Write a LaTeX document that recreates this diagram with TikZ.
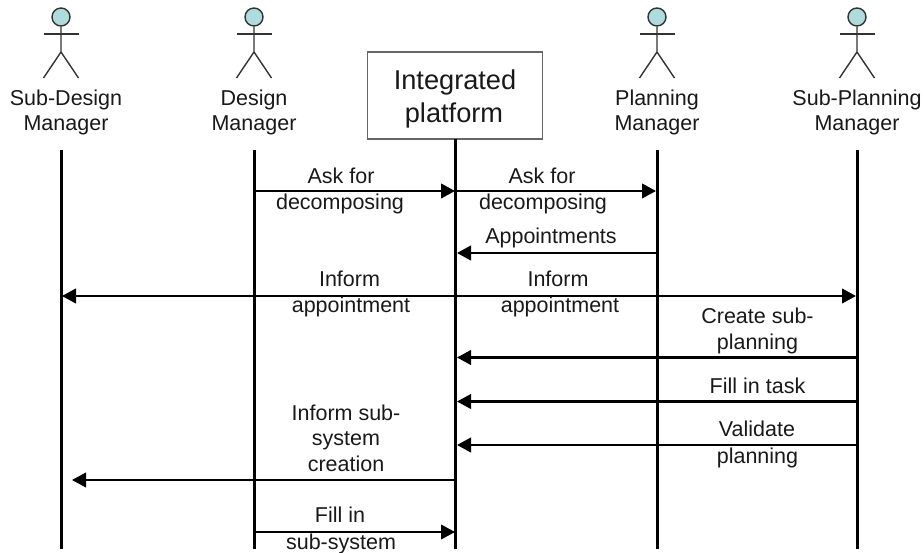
\documentclass[tikz,border=0pt]{standalone}
\usepackage{fontspec}
\setmainfont{Liberation Sans}
\usetikzlibrary{arrows.meta}
\definecolor{headc}{HTML}{AEDCDC}
\definecolor{limb}{HTML}{333333}
\tikzset{
  lifeline/.style={line width=3pt,black},
  msg/.style={line width=2.5pt,black,-{Triangle[length=14pt,width=14.5pt]}},
  msgboth/.style={line width=2.5pt,black,{Triangle[length=14pt,width=14.5pt]}-{Triangle[length=14pt,width=14.5pt]}},
  lbl/.style={font=\fontsize{21.5}{21.5}\selectfont,text=black!90,inner sep=0pt,anchor=base},
  limbs/.style={line width=1.4pt,limb},
  head/.style={circle,draw=limb,line width=1.4pt,fill=headc,minimum size=18pt,inner sep=0pt},
  platform/.style={draw=black!60,line width=1.3pt,fill=white,minimum width=175pt,minimum height=87pt,inner sep=0pt},
  plbl/.style={font=\fontsize{27.2}{27.2}\selectfont,text=black!90,inner sep=0pt,anchor=base}
}
\newcommand{\actor}[2]{%
  \node[head] (#2h) at (#1,17) {};
  \coordinate (#2n) at (#1,52);
  \coordinate (#2al) at (#1-17.5,34);
  \coordinate (#2ar) at (#1+17.5,34);
  \coordinate (#2ll) at (#1-17.5,78);
  \coordinate (#2lr) at (#1+17.5,78);
  \draw[limbs] (#2h.south) -- (#2n) -- (#2ll);
  \draw[limbs] (#2n) -- (#2lr);
  \draw[limbs] (#2al) -- (#2ar);
}
\newcommand{\txt}[4]{\node[lbl] (#1) at (#2,#3) {#4};}
\begin{document}
\begin{tikzpicture}[x=1pt,y=-1pt]
\useasboundingbox (0,0) rectangle (924,553);
\actor{61}{sd}
\actor{254}{d}
\actor{657}{p}
\actor{857}{sp}
\txt{sdl1}{66}{106}{Sub-Design}
\txt{sdl2}{66}{131}{Manager}
\txt{dl1}{254}{106}{Design}
\txt{dl2}{254}{131}{Manager}
\txt{pl1}{657}{106}{Planning}
\txt{pl2}{657}{131}{Manager}
\txt{spl1}{857}{106}{Sub-Planning}
\txt{spl2}{857}{131}{Manager}
\node[platform] (ip) at (455.2,95.6) {};
\node[plbl] (ipa) at (455,89.5) {Integrated};
\node[plbl] (ipb) at (454,123) {platform};
% lifelines
\foreach \n/\x/\y in {sd/61/150,d/254/150,i/455/139,p/657/150,sp/857/150}{
  \coordinate (\n t) at (\x,\y);
  \coordinate (\n b) at (\x,549);
  \draw[lifeline] (\n t) -- (\n b);
}
% message ends
\coordinate (m1a) at (254,191); \coordinate (m1b) at (455,191);
\coordinate (m2a) at (455,191); \coordinate (m2b) at (656,191);
\coordinate (m3a) at (657,253); \coordinate (m3b) at (457,253);
\coordinate (m4a) at (62,296); \coordinate (m4b) at (856,296);
\coordinate (m5a) at (857,357.5); \coordinate (m5b) at (457,357.5);
\coordinate (m6a) at (857,401.5); \coordinate (m6b) at (457,401.5);
\coordinate (m7a) at (857,445); \coordinate (m7b) at (457,445);
\coordinate (m8a) at (455,480); \coordinate (m8b) at (72,480);
\coordinate (m9a) at (254,532); \coordinate (m9b) at (455,532);
\draw[msg] (m1a) -- (m1b);
\draw[msg] (m2a) -- (m2b);
\draw[msg] (m3a) -- (m3b);
\draw[msgboth] (m4a) -- (m4b);
\draw[msg] (m5a) -- (m5b);
\draw[msg] (m6a) -- (m6b);
\draw[msg] (m7a) -- (m7b);
\draw[msg] (m8a) -- (m8b);
\draw[msg] (m9a) -- (m9b);
% labels
\txt{t1a}{341}{184}{Ask for}
\txt{t1b}{340}{210}{decomposing}
\txt{t2a}{542}{184}{Ask for}
\txt{t2b}{543}{210}{decomposing}
\txt{t3}{551}{244}{Appointments}
\txt{t4a}{349.5}{287}{Inform}
\txt{t4b}{351}{312.5}{appointment}
\txt{t5a}{558}{287}{Inform}
\txt{t5b}{560}{312.5}{appointment}
\txt{t6a}{757.5}{323.5}{Create sub-}
\txt{t6b}{757.5}{350}{planning}
\txt{t7}{757.5}{393.5}{Fill in task}
\txt{t8a}{757}{436.5}{Validate}
\txt{t8b}{757.5}{463.5}{planning}
\txt{t9a}{346}{420}{Inform sub-}
\txt{t9b}{346}{445}{system}
\txt{t9c}{346}{471.5}{creation}
\txt{t10a}{340}{522.5}{Fill in}
\txt{t10b}{341}{549}{sub-system}
\end{tikzpicture}
\end{document}
